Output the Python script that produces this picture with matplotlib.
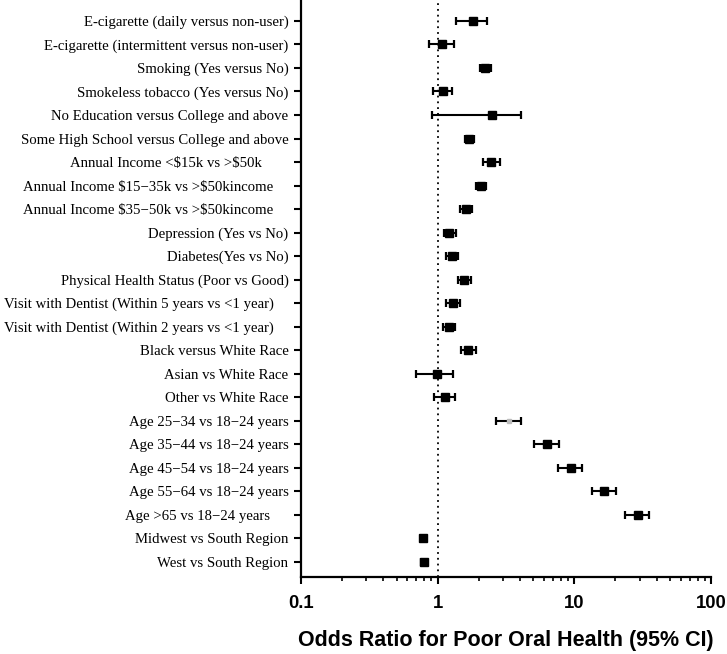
import numpy as np
import matplotlib.pyplot as plt
from matplotlib.ticker import LogLocator, NullFormatter, FixedLocator

labels = [
    "E-cigarette (daily versus non-user)",
    "E-cigarette (intermittent versus non-user)",
    "Smoking (Yes versus No)",
    "Smokeless tobacco (Yes versus No)",
    "No Education versus College and above",
    "Some High School versus College and above",
    "Annual Income <\\$15k vs >\\$50k       ",
    "Annual Income \\$15\u221235k vs >\\$50kincome    ",
    "Annual Income \\$35\u221250k vs >\\$50kincome    ",
    "Depression (Yes vs No)",
    "Diabetes(Yes vs No)",
    "Physical Health Status (Poor vs Good)",
    "Visit with Dentist (Within 5 years vs <1 year)    ",
    "Visit with Dentist (Within 2 years vs <1 year)    ",
    "Black versus White Race",
    "Asian vs White Race",
    "Other vs White Race",
    "Age 25\u221234 vs 18\u221224 years",
    "Age 35\u221244 vs 18\u221224 years",
    "Age 45\u221254 vs 18\u221224 years",
    "Age 55\u221264 vs 18\u221224 years",
    "Age >65 vs 18\u221224 years     ",
    "Midwest vs South Region",
    "West vs South Region",
]
odds = [1.82, 1.08, 2.23, 1.09, 2.49, 1.69, 2.46, 2.06, 1.60, 1.22, 1.27, 1.57,
        1.30, 1.21, 1.67, 0.99, 1.13, 3.35, 6.35, 9.4, 16.6, 29.2, 0.78, 0.79]
lower = [1.37, 0.86, 2.03, 0.92, 0.91, 1.58, 2.14, 1.90, 1.45, 1.12, 1.15, 1.42,
         1.16, 1.09, 1.49, 0.70, 0.94, 2.68, 5.05, 7.55, 13.4, 23.4, 0.75, 0.76]
upper = [2.29, 1.32, 2.46, 1.27, 4.06, 1.83, 2.84, 2.25, 1.77, 1.36, 1.42, 1.76,
         1.45, 1.35, 1.92, 1.29, 1.35, 4.10, 7.73, 11.4, 20.3, 35.3, 0.82, 0.83]
# the Age 25-34 point is drawn faint in the source
faint = [False] * 17 + [True] + [False] * 6

odds = np.array(odds)
lo = odds - np.array(lower)
hi = np.array(upper) - odds
y = np.arange(len(labels))

fig = plt.figure(figsize=(7.27, 6.54), dpi=100)
ax = fig.add_axes([0.414, 0.118, 0.564, 0.882])

ax.axvline(1, color="black", ls=(0, (1, 2.2)), lw=1.3, zorder=1)

for i in range(len(labels)):
    mc = "#BBBBBB" if faint[i] else "black"
    ms = 3 if faint[i] else 5.8
    ax.errorbar(odds[i], y[i], xerr=[[lo[i]], [hi[i]]], fmt="s", color="black",
                mfc=mc, mec=mc, ms=ms, elinewidth=1.5, capsize=3.2,
                capthick=1.6, zorder=3)

ax.set_xscale("log")
ax.set_xlim(0.1, 100)
ax.set_ylim(len(labels) - 0.36, -0.89)
ax.xaxis.set_major_locator(FixedLocator([0.1, 1, 10, 100]))
ax.xaxis.set_minor_locator(LogLocator(base=10, subs=np.arange(2, 10)))
ax.xaxis.set_minor_formatter(NullFormatter())
ax.set_xticklabels(["0.1", "1", "10", "100"], family="Liberation Sans",
                   fontweight="bold", fontsize=13.3)
ax.set_yticks(y)
ax.set_yticklabels(labels, family="Liberation Serif", fontsize=10.6)

ax.tick_params(axis="x", which="major", length=5, width=1.5, pad=8)
ax.tick_params(axis="x", which="minor", length=3, width=1.2)
ax.tick_params(axis="y", length=5, width=1.5, pad=4)
ax.spines["top"].set_visible(False)
ax.spines["right"].set_visible(False)
ax.spines["left"].set_linewidth(1.6)
ax.spines["bottom"].set_linewidth(1.6)

ax.set_xlabel("Odds Ratio for Poor Oral Health (95% CI)", family="Liberation Sans",
              fontweight="bold", fontsize=15.5, labelpad=13)

fig.savefig("out.png", dpi=100)
